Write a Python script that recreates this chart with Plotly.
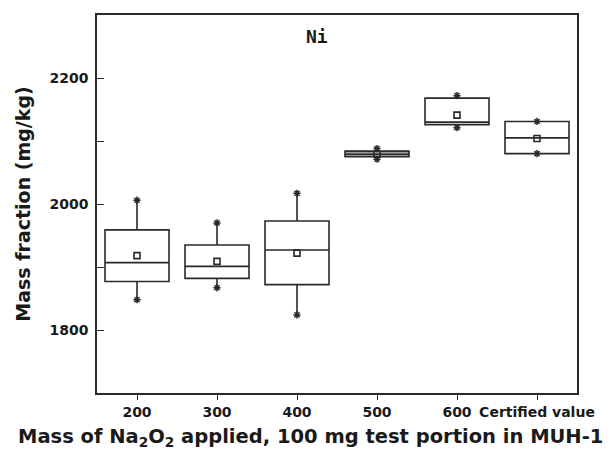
import plotly.graph_objects as go

categories = ["200", "300", "400", "500", "600", "Certified value"]
max_vals = [2006, 1970, 2017, 2088, 2172, 2131]
q3_vals = [1959, 1935, 1973, 2084, 2168, 2131]
median_vals = [1907, 1901, 1927, 2079, 2130, 2105]
q1_vals = [1877, 1882, 1872, 2075, 2126, 2080]
min_vals = [1848, 1867, 1824, 2071, 2121, 2080]
mean_vals = [1918, 1909, 1922, 2079, 2141, 2104]

y_tickvals = [1800, 1900, 2000, 2100, 2200]
y_ticktext = ["1800", "", "2000", "", "2200"]

x_title = "Mass of Na<sub>2</sub>O<sub>2</sub> applied, 100 mg test portion in MUH-1"
y_title = "Mass fraction (mg/kg)"
chart_title = "Ni"

gray_cat = "500"
line_col = "#2a2a2a"
font_fam = "DejaVu Sans"

fig = go.Figure()

white_idx = [i for i, c in enumerate(categories) if c != gray_cat]
gray_idx = [i for i, c in enumerate(categories) if c == gray_cat]

for idx, fill in [(white_idx, "white"), (gray_idx, "#9a9a9a")]:
    fig.add_trace(go.Box(
        x=[categories[i] for i in idx],
        q1=[q1_vals[i] for i in idx],
        median=[median_vals[i] for i in idx],
        q3=[q3_vals[i] for i in idx],
        lowerfence=[min_vals[i] for i in idx],
        upperfence=[max_vals[i] for i in idx],
        fillcolor=fill,
        line=dict(color=line_col, width=1.6),
        whiskerwidth=0,
        width=0.8,
        boxpoints=False,
        showlegend=False,
        hoverinfo="skip",
    ))

# min / max markers
fig.add_trace(go.Scatter(
    x=categories + categories,
    y=max_vals + min_vals,
    mode="markers",
    marker=dict(symbol="asterisk-open", size=6, line=dict(color=line_col, width=1.5), color=line_col),
    showlegend=False, hoverinfo="skip",
))
# mean markers
fig.add_trace(go.Scatter(
    x=categories,
    y=mean_vals,
    mode="markers",
    marker=dict(symbol="square-open", size=6, line=dict(color=line_col, width=1.6), color=line_col),
    showlegend=False, hoverinfo="skip",
))

fig.add_annotation(
    text=chart_title, x=0.458, y=0.942, xref="paper", yref="paper",
    xanchor="center", yanchor="middle",
    showarrow=False, font=dict(family="DejaVu Sans Mono", size=18, color="#1a1a1a", weight="bold"),
)
fig.add_annotation(
    text=x_title, x=0.444, y=-0.118, xref="paper", yref="paper",
    xanchor="center", yanchor="middle",
    showarrow=False, font=dict(family=font_fam, size=19.5, color="#1a1a1a", weight="bold"),
)

fig.update_layout(
    width=613, height=453,
    margin=dict(l=97, r=36, t=15, b=60),
    paper_bgcolor="white", plot_bgcolor="white",
    boxmode="overlay",
    font=dict(family=font_fam, color="#1a1a1a"),
)

fig.update_xaxes(
    type="category", categoryorder="array", categoryarray=categories,
    range=[-0.5, len(categories) - 0.5],
    showline=True, linecolor=line_col, linewidth=1.6, mirror=True,
    ticks="outside", ticklen=5, tickwidth=1.4, tickcolor=line_col,
    showgrid=False, zeroline=False,
    tickfont=dict(family=font_fam, size=14, weight="bold", color="#1a1a1a"),
)

fig.update_yaxes(
    range=[1700, 2300],
    tickvals=y_tickvals, ticktext=y_ticktext,
    showline=True, linecolor=line_col, linewidth=1.6, mirror=True,
    ticks="inside", ticklen=7, tickwidth=1.4, tickcolor=line_col,
    showgrid=False, zeroline=False,
    tickfont=dict(family=font_fam, size=14, weight="bold", color="#1a1a1a"),
    ticklabelstandoff=4,
    title=dict(text=y_title,
               font=dict(family=font_fam, size=19, weight="bold", color="#1a1a1a"), standoff=14),
)

fig.write_html("out.html")
